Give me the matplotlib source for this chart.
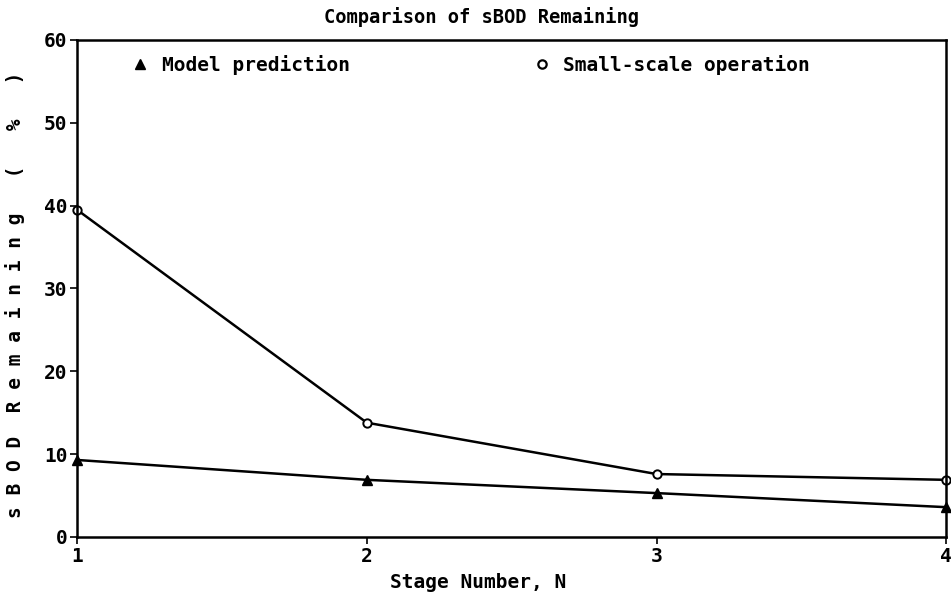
import matplotlib
matplotlib.use("Agg")
import matplotlib.pyplot as plt

stages = [1, 2, 3, 4]
model_prediction = [9.3, 6.9, 5.3, 3.6]
small_scale = [39.5, 13.8, 7.6, 6.9]
y_ticks = [0, 10, 20, 30, 40, 50, 60]
x_ticks = [1, 2, 3, 4]

plt.rcParams['font.family'] = ['DejaVu Sans Mono']
plt.rcParams['font.weight'] = 'bold'

fig = plt.figure(figsize=(9.51, 6.01), dpi=100)
ax = fig.add_axes([0.081, 0.1065, 0.914, 0.827])

ax.plot(stages, model_prediction, color='black', lw=1.8, marker='^', ms=7,
        mfc='black', mec='black', clip_on=False)
ax.plot(stages, small_scale, color='black', lw=1.8, marker='o', ms=6,
        mfc='white', mec='black', mew=1.4, clip_on=False)

ax.set_xlim(1, 4)
ax.set_ylim(0, 60)
ax.set_xticks(x_ticks)
ax.set_yticks(y_ticks)
ax.tick_params(axis='both', direction='out', length=5, width=1.2,
               labelsize=14, pad=2)
for lab in ax.get_xticklabels() + ax.get_yticklabels():
    lab.set_fontweight('bold')
for s in ax.spines.values():
    s.set_linewidth(1.8)

# legend-like entries inside plot
ax.plot([1.217], [57.1], marker='^', color='black', ms=7, ls='none')
ax.text(1.293, 57.0, 'Model prediction', fontsize=14, fontweight='bold',
        va='center', ha='left')
ax.plot([2.605], [57.1], marker='o', mfc='white', mec='black', mew=1.6,
        ms=6, ls='none')
ax.text(2.678, 57.0, 'Small-scale operation', fontsize=14, fontweight='bold',
        va='center', ha='left')

fig.text(0.506, 0.972, 'Comparison of sBOD Remaining', fontsize=13.5,
         fontweight='bold', ha='center', va='center')
fig.text(0.503, 0.030, 'Stage Number, N', fontsize=14, fontweight='bold',
         ha='center', va='center')
fig.text(0.016, 0.509, 's B O D  R e m a i n i n g   (   %   )', fontsize=14,
         fontweight='bold', rotation=90, ha='center', va='center')

fig.savefig('out.png', dpi=100)
